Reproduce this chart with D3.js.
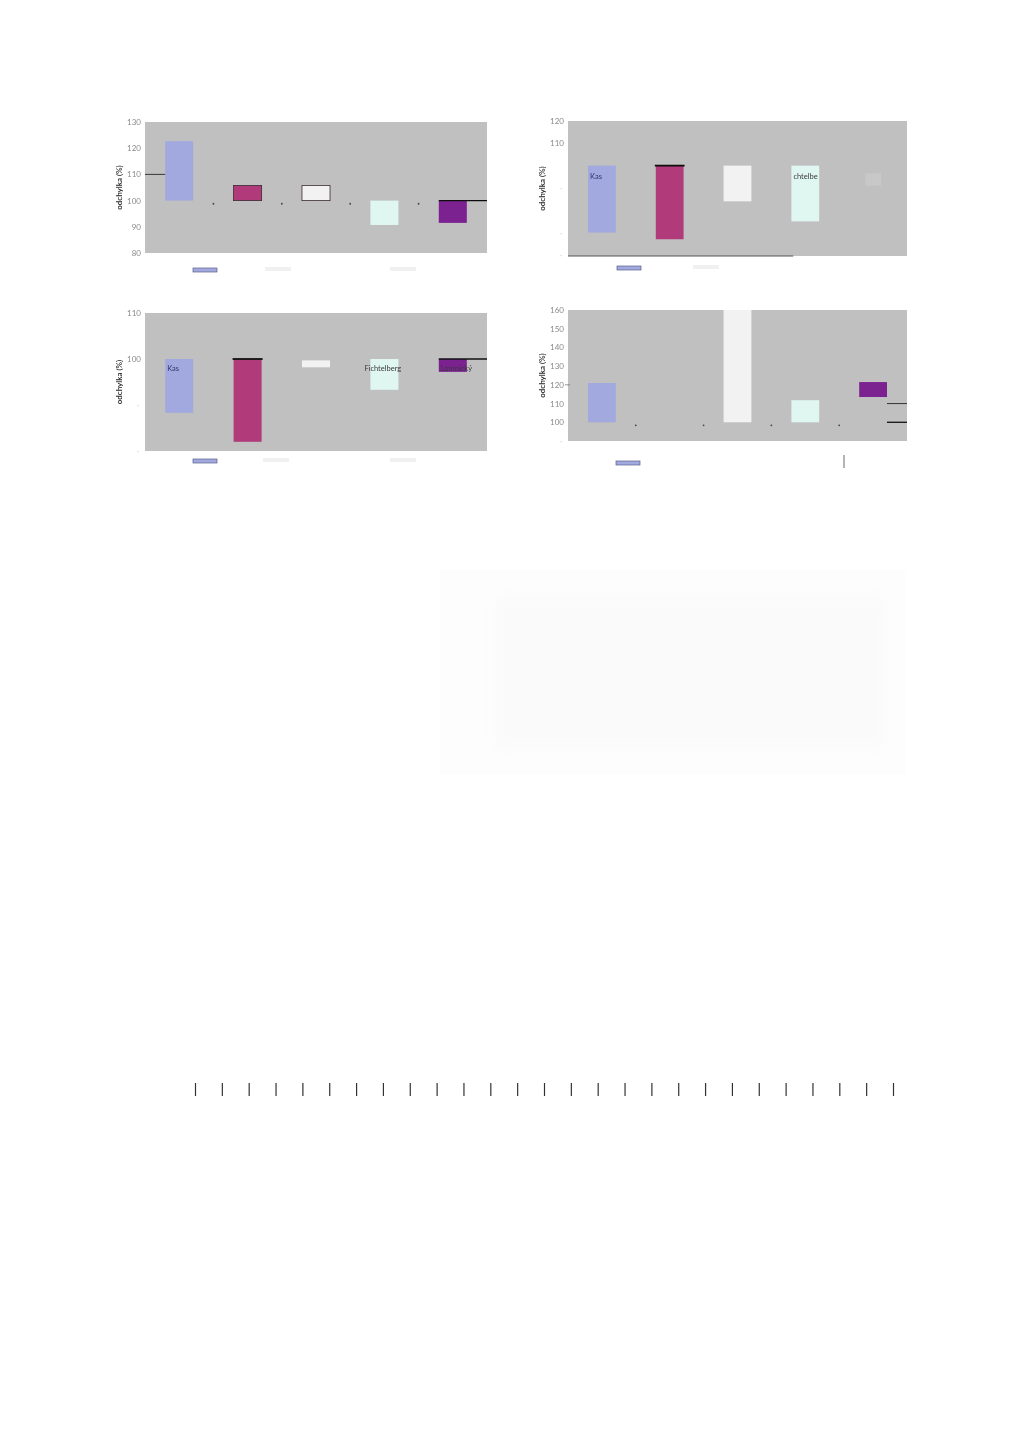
<!DOCTYPE html>
<html>
<head>
<meta charset="utf-8">
<script src="https://cdn.jsdelivr.net/npm/d3@7"></script>
<style>
  body { margin: 0; background: #fff; }
  svg { display: block; }
  text { font-family: Lato, 'DejaVu Sans', sans-serif; }
</style>
</head>
<body>
<div id="page"></div>
<script>
// Station categories and their bar colours
var categories = ['Kasprowy', 'Sněžka', 'Zugspitze', 'Fichtelberg', 'Lomnický']
var barColours = ['#a2a9df', '#b13b7a', '#f2f2f2', '#dff6f1', '#7b2290']

// Panel 1 (top left)
var p1Ticks = [80, 90, 100, 110, 120, 130]
var p1FaintTicks = []
var p1Base = [100, 100, 100, 100, 100]
var p1Values = [122.7, 105.8, 105.8, 90.7, 91.5]
var p1Markers = [98.8, 98.8, 98.8, 98.8]
var p1Labels = [null, null, null, null, null]

// Panel 2 (top right)
var p2Ticks = [110, 120]
var p2FaintTicks = [60, 70, 90]
var p2Base = [100, 100, 100, 100, 96.5]
var p2Values = [70, 67, 84, 75, 91]
var p2Markers = []
var p2Labels = ['Kas', null, null, 'chtelbe', null]

// Panel 3 (bottom left)
var p3Ticks = [100, 110]
var p3FaintTicks = [80, 90]
var p3Base = [100, 100, 99.7, 100, 100]
var p3Values = [88.3, 82, 98.2, 93.3, 97.2]
var p3Markers = []
var p3Labels = ['Kas', null, null, 'Fichtelberg', 'Lomnický']

// Panel 4 (bottom right), no bar for the second station
var p4Ticks = [100, 110, 120, 130, 140, 150, 160]
var p4FaintTicks = [90]
var p4Base = [100, null, 100, 100, 113.5]
var p4Values = [121, null, 160, 111.8, 121.5]
var p4Markers = [98.4, 98.4, 98.4, 98.4]
var p4Labels = [null, null, null, null, null]

// Tick strip lower on the page
var stripTicks = ['', '', '', '', '', '', '', '', '', '', '', '', '', '', '', '', '', '', '', '', '', '', '', '', '', '', '']

var panels = [
  { x: 145, y: 122, w: 342, h: 131, domain: [80, 130], ticks: p1Ticks, faint: p1FaintTicks,
    base: p1Base, values: p1Values, markers: p1Markers, labels: p1Labels, labelValue: null,
    outlined: [1, 2], topLines: [], faintBar: -1, axisTick: null,
    refLines: [{ value: 110, from: 'start', to: 'b0L' }, { value: 100, from: 'b4L', to: 'end' }],
    legend: { dx: 48, dy: 15 }, faintTexts: [[120, 146], [245, 148]], bottomLine: false },
  { x: 568, y: 121, w: 339, h: 135, domain: [59.5, 120], ticks: p2Ticks, faint: p2FaintTicks,
    base: p2Base, values: p2Values, markers: p2Markers, labels: p2Labels, labelValue: 95,
    outlined: [], topLines: [1], refLines: [], faintBar: 4, axisTick: null,
    legend: { dx: 49, dy: 10 }, faintTexts: [[125, 146]], bottomLine: true },
  { x: 145, y: 313, w: 342, h: 138, domain: [80, 110], ticks: p3Ticks, faint: p3FaintTicks,
    base: p3Base, values: p3Values, markers: p3Markers, labels: p3Labels, labelValue: 98,
    outlined: [], topLines: [1], faintBar: -1, axisTick: null,
    refLines: [{ value: 100, from: 'b4L', to: 'end' }],
    legend: { dx: 48, dy: 8 }, faintTexts: [[118, 146], [245, 146]], bottomLine: false },
  { x: 568, y: 310, w: 339, h: 131, domain: [90, 160], ticks: p4Ticks, faint: p4FaintTicks,
    base: p4Base, values: p4Values, markers: p4Markers, labels: p4Labels, labelValue: null,
    outlined: [], topLines: [], faintBar: -1, axisTick: 120,
    refLines: [{ value: 110, from: 'b4R', to: 'end' }, { value: 100, from: 'b4R', to: 'end' }],
    legend: { dx: 48, dy: 20 }, faintTexts: [], bottomLine: false, marker: 276 }
]

var svg = d3.select('#page').append('svg')
  .attr('width', 1024)
  .attr('height', 1447)

// Soft blur to imitate the scanned page
var defs = svg.append('defs')
defs.append('filter').attr('id', 'scan')
  .append('feGaussianBlur').attr('stdDeviation', 0.45)
defs.append('filter').attr('id', 'haze')
  .attr('x', '-20%').attr('y', '-20%').attr('width', '140%').attr('height', '140%')
  .append('feGaussianBlur').attr('stdDeviation', 8)

svg.append('rect').attr('width', 1024).attr('height', 1447).attr('fill', '#fff')

var page = svg.append('g').attr('filter', 'url(#scan)')

panels.forEach(drawPanel)
drawHaze()
drawStrip()

/**
 * Draw one of the four deviation panels
 */
function drawPanel (p) {
  var g = page.append('g').attr('transform', 'translate(' + p.x + ',' + p.y + ')')

  var x = d3.scaleBand()
    .domain(categories)
    .range([0, p.w])
    .paddingInner(0.59)
    .paddingOuter(0.295)

  var y = d3.scaleLinear()
    .domain(p.domain)
    .range([p.h, 0])

  // Plot background
  g.append('rect')
    .attr('width', p.w)
    .attr('height', p.h)
    .attr('fill', '#c0c0c0')

  if (p.bottomLine) {
    g.append('line')
      .attr('x1', 0).attr('x2', x(categories[3]) + x.bandwidth() / 2 - 12)
      .attr('y1', p.h).attr('y2', p.h)
      .attr('stroke', '#555').attr('stroke-width', 1.2)
  }

  // Y axis, labels only
  var axis = g.append('g')
    .call(d3.axisLeft(y).tickValues(p.ticks).tickSize(0).tickPadding(4).tickFormat(d3.format('d')))
  axis.select('.domain').remove()
  axis.selectAll('text').attr('fill', '#8a8a8a').style('font-size', '8px')

  if (p.axisTick !== null) {
    g.append('line')
      .attr('x1', -3).attr('x2', 2)
      .attr('y1', y(p.axisTick)).attr('y2', y(p.axisTick))
      .attr('stroke', '#777').attr('stroke-width', 0.8)
  }

  var faintAxis = g.append('g')
    .call(d3.axisLeft(y).tickValues(p.faint).tickSize(0).tickPadding(6).tickFormat(function () { return '·' }))
  faintAxis.select('.domain').remove()
  faintAxis.selectAll('text').attr('fill', '#d0d0d0').style('font-size', '8px')

  g.append('text')
    .attr('transform', 'rotate(-90)')
    .attr('x', -p.h / 2)
    .attr('y', -23)
    .attr('text-anchor', 'middle')
    .attr('fill', '#222')
    .style('font-size', '8px')
    .style('font-weight', 600)
    .text('odchylka (%)')

  var bars = categories.map(function (c, i) {
    return { cat: c, i: i, base: p.base[i], value: p.values[i] }
  }).filter(function (d) { return d.value !== null })

  g.selectAll('.bar')
    .data(bars)
    .enter().append('rect')
    .attr('class', 'bar')
    .attr('x', function (d) { return x(d.cat) + (d.i === p.faintBar ? 6 : 0) })
    .attr('width', function (d) { return d.i === p.faintBar ? x.bandwidth() - 12 : x.bandwidth() })
    .attr('y', function (d) { return y(Math.max(d.base, d.value)) })
    .attr('height', function (d) { return Math.abs(y(d.base) - y(d.value)) })
    .attr('fill', function (d) { return d.i === p.faintBar ? '#c8c8c8' : barColours[d.i] })
    .attr('stroke', function (d) { return p.outlined.indexOf(d.i) >= 0 ? '#3a2a32' : 'none' })
    .attr('stroke-width', 0.8)

  // Heavy black edge at the top of some bars
  g.selectAll('.topline')
    .data(bars.filter(function (d) { return p.topLines.indexOf(d.i) >= 0 }))
    .enter().append('line')
    .attr('x1', function (d) { return x(d.cat) - 1 })
    .attr('x2', function (d) { return x(d.cat) + x.bandwidth() + 1 })
    .attr('y1', function (d) { return y(d.base) })
    .attr('y2', function (d) { return y(d.base) })
    .attr('stroke', '#111')
    .attr('stroke-width', 1.8)

  // Horizontal reference lines
  g.selectAll('.ref')
    .data(p.refLines)
    .enter().append('line')
    .attr('x1', function (d) { return edge(d.from) })
    .attr('x2', function (d) { return edge(d.to) })
    .attr('y1', function (d) { return y(d.value) })
    .attr('y2', function (d) { return y(d.value) })
    .attr('stroke', '#111')
    .attr('stroke-width', function (d, i) { return i === p.refLines.length - 1 ? 1.3 : 0.8 })

  function edge (spec) {
    if (spec === 'start') return 0
    if (spec === 'end') return p.w
    var band = x(categories[+spec[1]])
    return spec[2] === 'L' ? band : band + x.bandwidth()
  }

  // Small markers between the bars
  g.selectAll('.marker')
    .data(p.markers)
    .enter().append('circle')
    .attr('cx', function (d, i) { return x(categories[i]) + x.bandwidth() + x.step() * 0.295 })
    .attr('cy', function (d) { return y(d) })
    .attr('r', 0.9)
    .attr('fill', '#444')

  // Station names written inside the bars
  g.selectAll('.name')
    .data(categories.map(function (c, i) { return { cat: c, text: p.labels[i], i: i } })
      .filter(function (d) { return d.text }))
    .enter().append('text')
    .attr('x', function (d) { return d.text.length > 8 ? x(d.cat) - 6 : x(d.cat) + 2 })
    .attr('y', y(p.labelValue))
    .attr('dy', '0.35em')
    .attr('fill', function (d) { return d.i === 0 ? '#2d3570' : '#3a3a3a' })
    .style('font-size', '7.5px')
    .text(function (d) { return d.text })

  // Legend swatch and washed-out legend texts
  var lg = g.append('g').attr('transform', 'translate(' + p.legend.dx + ',' + (p.h + p.legend.dy) + ')')
  lg.append('rect')
    .attr('width', 24).attr('height', 4)
    .attr('fill', barColours[0])
    .attr('stroke', '#5a5f8a').attr('stroke-width', 0.7)
  lg.selectAll('.ftext')
    .data(p.faintTexts)
    .enter().append('rect')
    .attr('x', function (d) { return d[0] - p.legend.dx })
    .attr('y', -1)
    .attr('width', 26).attr('height', 4)
    .attr('fill', '#f0f0f0')

  if (p.marker) {
    g.append('line')
      .attr('x1', p.marker).attr('x2', p.marker)
      .attr('y1', p.h + 14).attr('y2', p.h + 27)
      .attr('stroke', '#444').attr('stroke-width', 0.8)
  }
}

/**
 * Very faint frame in the middle of the page
 */
function drawHaze () {
  var g = svg.append('g')
  g.append('rect')
    .attr('x', 440).attr('y', 570).attr('width', 465).attr('height', 205)
    .attr('fill', '#fdfdfd')
  g.append('rect')
    .attr('x', 495).attr('y', 598).attr('width', 390).attr('height', 150)
    .attr('fill', '#fafafa')
    .attr('filter', 'url(#haze)')
}

/**
 * Row of lone tick marks near the bottom of the page
 */
function drawStrip () {
  var sx = d3.scalePoint()
    .domain(d3.range(stripTicks.length))
    .range([195, 893])

  var strip = page.append('g')
    .attr('transform', 'translate(0,1083)')
    .call(d3.axisBottom(sx).tickSize(13).tickFormat(function (d) { return stripTicks[d] }))
  strip.select('.domain').remove()
  strip.selectAll('line').attr('stroke', '#333').attr('stroke-width', 1.2)
}
</script>
</body>
</html>
